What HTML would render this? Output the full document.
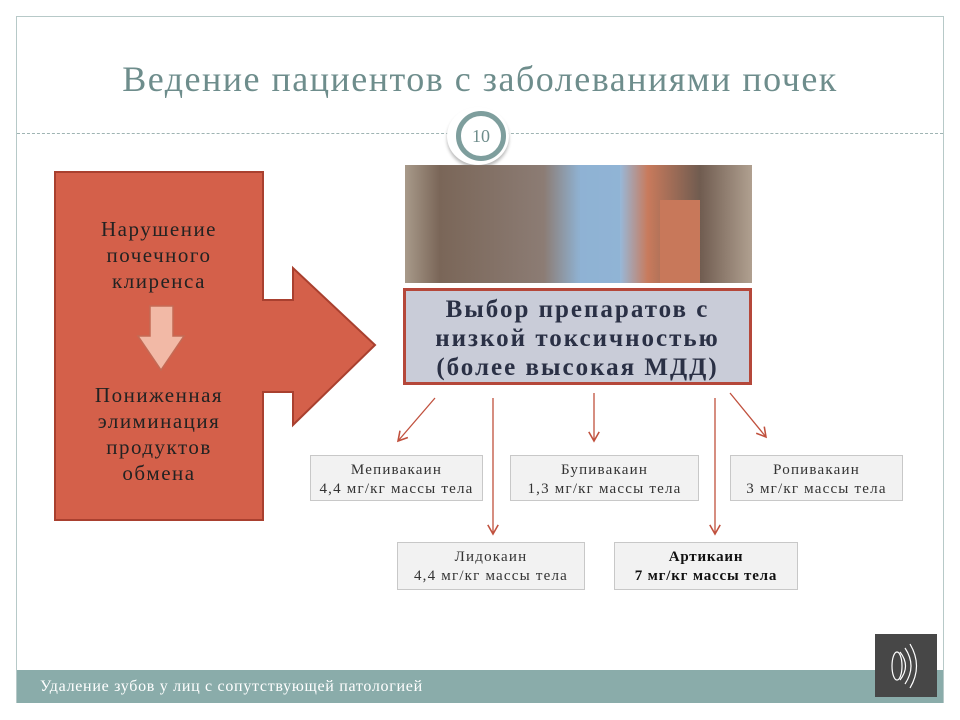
<!DOCTYPE html>
<html><head><meta charset="utf-8"><style>
body{margin:0;width:960px;height:720px;background:#fff;position:relative;overflow:hidden;font-family:"Liberation Serif","DejaVu Serif",serif}
.b{position:absolute;background:#f2f2f2;border:1px solid #c8c8c8;text-align:center;font-size:15px;letter-spacing:1.2px;color:#333;line-height:19px;box-sizing:border-box;padding-top:5px;white-space:nowrap}
</style></head><body>
<div style="position:absolute;left:16px;top:16px;width:928px;height:687px;border:1px solid #b7c9c8;box-sizing:border-box"></div>
<div style="position:absolute;left:0;top:58px;width:960px;text-align:center;font-size:36px;letter-spacing:1.5px;color:#6e8d8c">Ведение пациентов с заболеваниями почек</div>
<div style="position:absolute;left:17px;top:133px;width:926px;border-top:1px dashed #9fb4b3"></div>
<div style="position:absolute;left:447px;top:107px;width:62px;height:58px;border-radius:50%;background:#fff;box-shadow:0 3px 3px #bbb"></div>
<div style="position:absolute;left:456px;top:111px;width:40px;height:40px;border-radius:50%;border:5px solid #7e9e9d;background:#fff;text-align:center;line-height:40px;font-size:18px;color:#6e8d8c">10</div>
<svg width="960" height="720" style="position:absolute;left:0;top:0">
<defs><linearGradient id="g" x1="0" x2="1"><stop offset="0" stop-color="#a89a8a"/><stop offset=".1" stop-color="#7a6658"/><stop offset=".4" stop-color="#8c7c74"/><stop offset=".5" stop-color="#8fb0cf"/><stop offset=".62" stop-color="#98b8d8"/><stop offset=".7" stop-color="#c87a5c"/><stop offset=".85" stop-color="#705c50"/><stop offset="1" stop-color="#b0a090"/></linearGradient>
<marker id="a" markerWidth="10" markerHeight="10" refX="8" refY="5" orient="auto"><path d="M1,1 L8,5 L1,9" fill="none" stroke="#c0503d" stroke-width="1.2"/></marker></defs>
<polygon points="55,172 263,172 263,300 293,300 293,268 375,345 293,425 293,392 263,392 263,520 55,520" fill="#d4604a" stroke="#a9402f" stroke-width="2"/>
<polygon points="150,306 173,306 173,336 184,336 161,370 138,336 150,336" fill="#f2b9a6" stroke="#c46a55" stroke-width="1.5"/>
<rect x="405" y="165" width="347" height="118" fill="url(#g)"/>
<rect x="580" y="165" width="40" height="118" fill="#8fb3d4" opacity=".8"/>
<rect x="660" y="200" width="40" height="83" fill="#c8785a"/>
<g stroke="#c0503d" stroke-width="1.3" marker-end="url(#a)">
<line x1="435" y1="398" x2="398" y2="441"/><line x1="493" y1="398" x2="493" y2="534"/>
<line x1="594" y1="393" x2="594" y2="441"/><line x1="715" y1="398" x2="715" y2="534"/>
<line x1="730" y1="393" x2="766" y2="437"/></g>
</svg>
<div style="position:absolute;left:45px;top:216px;width:228px;text-align:center;font-size:21px;letter-spacing:1.5px;line-height:26px;color:#222">Нарушение<br>почечного<br>клиренса</div>
<div style="position:absolute;left:45px;top:382px;width:228px;text-align:center;font-size:21px;letter-spacing:1.5px;line-height:26px;color:#222">Пониженная<br>элиминация<br>продуктов<br>обмена</div>
<div style="position:absolute;left:403px;top:288px;width:349px;height:97px;background:#c9ccd8;border:3px solid #b5473a;box-sizing:border-box;text-align:center;font-weight:bold;font-size:25px;letter-spacing:2px;line-height:29px;color:#2a3045;padding-top:4px;white-space:nowrap">Выбор препаратов с<br>низкой токсичностью<br>(более высокая МДД)</div>
<div class="b" style="left:310px;top:455px;width:173px;height:46px">Мепивакаин<br>4,4 мг/кг массы тела</div>
<div class="b" style="left:510px;top:455px;width:189px;height:46px">Бупивакаин<br>1,3 мг/кг массы тела</div>
<div class="b" style="left:730px;top:455px;width:173px;height:46px">Ропивакаин<br>3 мг/кг массы тела</div>
<div class="b" style="left:397px;top:542px;width:188px;height:48px">Лидокаин<br>4,4 мг/кг массы тела</div>
<div class="b" style="left:614px;top:542px;width:184px;height:48px;font-weight:bold;color:#111;letter-spacing:0.8px">Артикаин<br>7 мг/кг массы тела</div>
<div style="position:absolute;left:17px;top:670px;width:926px;height:33px;background:#8aacaa"></div>
<div style="position:absolute;left:40px;top:678px;font-size:16px;letter-spacing:0.7px;color:#fff">Удаление зубов у лиц с сопутствующей патологией</div>
<div style="position:absolute;left:875px;top:634px;width:62px;height:63px;background:#474747"></div>
<svg width="62" height="63" style="position:absolute;left:875px;top:634px"><g fill="none" stroke="#fff" stroke-width="1.2"><ellipse cx="22" cy="32" rx="5" ry="14"/><path d="M25,18 Q36,32 25,46"/><path d="M30,14 Q42,32 30,50"/><path d="M35,10 Q48,32 35,54"/></g></svg>
</body></html>
